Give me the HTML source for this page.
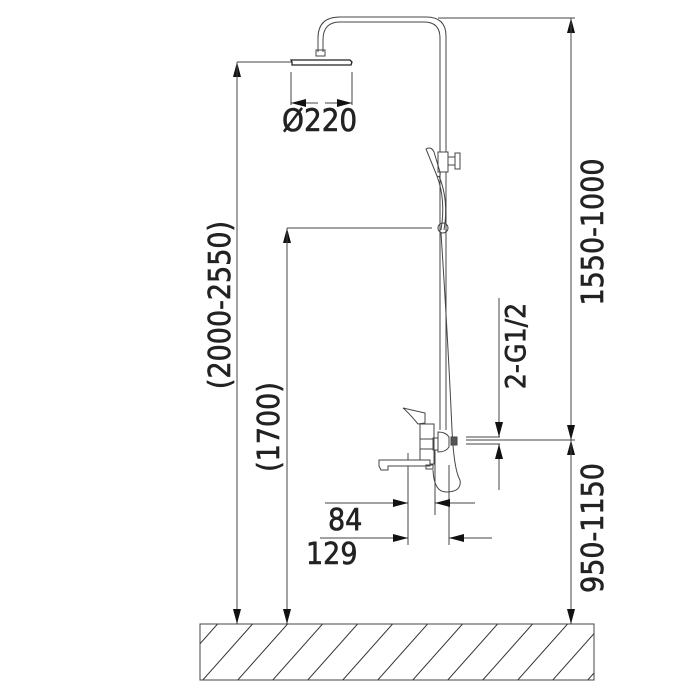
<!DOCTYPE html>
<html><head><meta charset="utf-8"><style>
html,body{margin:0;padding:0;background:#fff;}
svg{display:block}
text{font-family:"DejaVu Sans Condensed","DejaVu Sans","Liberation Sans",sans-serif;fill:#222;stroke:#222;stroke-width:0.6;}
</style></head><body>
<svg width="700" height="700" viewBox="0 0 700 700" xmlns="http://www.w3.org/2000/svg">
<defs>
<marker id="a" viewBox="0 0 10 10" refX="10" refY="5" markerWidth="15" markerHeight="8" orient="auto" markerUnits="userSpaceOnUse" preserveAspectRatio="none"><path d="M0,0 L10,5 L0,10Z" fill="#111"/></marker>
<clipPath id="fc"><rect x="200" y="624" width="394" height="56"/></clipPath>
</defs>
<g stroke="#444" stroke-width="1" fill="none">
<rect x="200" y="624" width="394" height="56"/>
<g clip-path="url(#fc)" stroke="#333">
<path d="M150,700 L230,610 M185,700 L265,610 M220,700 L300,610 M255,700 L335,610 M290,700 L370,610 M325,700 L405,610 M360,700 L440,610 M395,700 L475,610 M430,700 L510,610 M465,700 L545,610 M500,700 L580,610 M535,700 L615,610 M570,700 L650,610"/>
</g>
<line x1="237" y1="62" x2="292" y2="62"/>
<line x1="237" y1="624" x2="237" y2="62" marker-end="url(#a)"/>
<line x1="237" y1="62" x2="237" y2="624" marker-end="url(#a)"/>
<line x1="287" y1="228" x2="432" y2="228"/>
<line x1="287" y1="624" x2="287" y2="228" marker-end="url(#a)"/>
<line x1="287" y1="228" x2="287" y2="624" marker-end="url(#a)"/>
<line x1="438" y1="18" x2="575" y2="18"/>
<line x1="571" y1="440" x2="571" y2="18" marker-end="url(#a)"/>
<line x1="571" y1="18" x2="571" y2="440" marker-end="url(#a)"/>
<line x1="571" y1="624" x2="571" y2="440" marker-end="url(#a)"/>
<line x1="571" y1="440" x2="571" y2="624" marker-end="url(#a)"/>
<line x1="466" y1="440" x2="575" y2="440"/>
<line x1="466" y1="444" x2="500" y2="444"/>
<line x1="466" y1="437" x2="500" y2="437"/>
<line x1="499" y1="298" x2="499" y2="437" marker-end="url(#a)"/>
<line x1="499" y1="490" x2="499" y2="444" marker-end="url(#a)"/>
<line x1="408" y1="453" x2="408" y2="545"/>
<line x1="435" y1="450" x2="435" y2="515"/>
<line x1="449" y1="465" x2="449" y2="545"/>
<line x1="325" y1="503" x2="408" y2="503" marker-end="url(#a)"/>
<line x1="475" y1="503" x2="435" y2="503" marker-end="url(#a)"/>
<line x1="320" y1="538" x2="408" y2="538" marker-end="url(#a)"/>
<line x1="492" y1="538" x2="449" y2="538" marker-end="url(#a)"/>
<line x1="291" y1="72" x2="291" y2="105"/>
<line x1="352" y1="72" x2="352" y2="105"/>
<line x1="318" y1="103" x2="291" y2="103" marker-end="url(#a)"/>
<line x1="325" y1="103" x2="352" y2="103" marker-end="url(#a)"/>
<path d="M440,430 L440,38 Q440,22 424,22 L340,22 Q323,22 323,40 L323,52"/>
<path d="M446,430 L446,36 Q446,17 426,17 L340,17 Q318,17 318,38 L318,52"/>
<rect x="316" y="50" width="9" height="6"/>
<path d="M292,62 L291,60 L350,60 L352,62 L351,65 L292,65Z" fill="#fff" stroke="#222" stroke-width="1.3"/>
<rect x="438" y="152" width="10" height="20" fill="#fff"/>
<rect x="448" y="157" width="7" height="8"/>
<rect x="455" y="153" width="5" height="16"/>
<path d="M426,149 Q431,146 434,152 L440,172 Q441,178 437,176 Z"/>
<path d="M437,176 Q446,200 441,230"/>
<path d="M439,176 Q449,200 444,230"/>
<ellipse cx="443" cy="228" rx="5" ry="5"/>
<path d="M441,233 Q448,340 452,430 Q454,470 460,480 Q462,492 446,492 Q434,492 433,470"/>
<path d="M403,408 L425,413 L425,423 L418,424 Q408,412 403,408Z" fill="#fff"/>
<rect x="420" y="424" width="14" height="40"/>
<rect x="420" y="439" width="14" height="10"/>
<rect x="433" y="438" width="5" height="12"/>
<path d="M438,432 Q446,432 449,437 L449,447 Q446,452 438,452Z"/>
<rect x="451" y="437" width="6" height="8" fill="#555"/>
<path d="M379,460 L430,460 L430,466 L388,466 L388,470 L381,470 L379,466Z" fill="#fff"/>
<rect x="426" y="465" width="7" height="4"/>
</g>
<text x="282" y="131" font-size="31">Ø220</text>
<text x="328" y="530" font-size="30">84</text>
<text x="306" y="564" font-size="30">129</text>
<text transform="translate(230,305) rotate(-90)" font-size="30" text-anchor="middle">(2000-2550)</text>
<text transform="translate(279,427) rotate(-90)" font-size="30" text-anchor="middle">(1700)</text>
<text transform="translate(603,232) rotate(-90)" font-size="30" text-anchor="middle">1550-1000</text>
<text transform="translate(603,528) rotate(-90)" font-size="30" text-anchor="middle">950-1150</text>
<text transform="translate(525,346) rotate(-90)" font-size="28" text-anchor="middle">2-G1/2</text>
</svg>
</body></html>
